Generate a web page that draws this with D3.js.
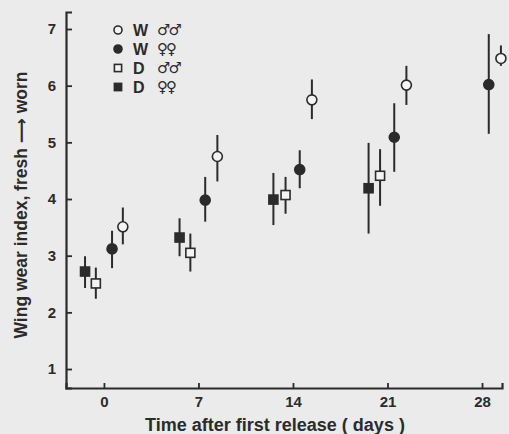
<!DOCTYPE html>
<html><head><meta charset="utf-8">
<script src="https://cdn.jsdelivr.net/npm/d3@7/dist/d3.min.js"></script>
<style>
html,body{margin:0;padding:0;background:#ebebeb;}
svg{display:block;}
text{font-family:"Liberation Sans",Arial,Helvetica,sans-serif;fill:#2b2b2b;}
</style></head>
<body><svg id="c" width="509" height="434"></svg>
<script>
// Data (days after first release, wing wear index mean, lower, upper)
const seriesLetters = ["W", "W", "D", "D"];
const seriesSexes = ["♂♂", "♀♀", "♂♂", "♀♀"];
const wMalesDay  = [1.4, 8.4, 15.4, 22.4, 29.4];
const wMalesVal  = [3.51, 4.75, 5.75, 6.01, 6.48];
const wMalesLo   = [3.20, 4.31, 5.41, 5.66, 6.35];
const wMalesHi   = [3.85, 5.13, 6.11, 6.35, 6.71];
const wFemDay    = [0.6, 7.5, 14.5, 21.5, 28.5];
const wFemVal    = [3.12, 3.98, 4.52, 5.09, 6.02];
const wFemLo     = [2.78, 3.60, 4.19, 4.48, 5.15];
const wFemHi     = [3.44, 4.39, 4.86, 5.69, 6.91];
const dMalesDay  = [-0.6, 6.4, 13.45, 20.45];
const dMalesVal  = [2.51, 3.05, 4.07, 4.41];
const dMalesLo   = [2.24, 2.72, 3.74, 3.88];
const dMalesHi   = [2.79, 3.39, 4.39, 4.88];
const dFemDay    = [-1.4, 5.6, 12.55, 19.6];
const dFemVal    = [2.72, 3.32, 3.99, 4.19];
const dFemLo     = [2.43, 2.99, 3.54, 3.39];
const dFemHi     = [2.99, 3.66, 4.46, 4.99];
const xTicks = [0, 7, 14, 21, 28];
const yTicks = [1, 2, 3, 4, 5, 6, 7];
const xTitle = "Time after first release ( days )";
const yTitleA = "Wing wear index, fresh ";
const yTitleArrow = "⟶";
const yTitleB = " worn";

const series = [
  {shape: "circle", fill: false, day: wMalesDay, val: wMalesVal, lo: wMalesLo, hi: wMalesHi},
  {shape: "circle", fill: true,  day: wFemDay,   val: wFemVal,   lo: wFemLo,   hi: wFemHi},
  {shape: "square", fill: false, day: dMalesDay, val: dMalesVal, lo: dMalesLo, hi: dMalesHi},
  {shape: "square", fill: true,  day: dFemDay,   val: dFemVal,   lo: dFemLo,   hi: dFemHi}
];

const ink = "#2b2b2b";
const svg = d3.select("#c");
const x = d3.scaleLinear().domain([-2.81, 29.48]).range([66, 502]);
const y = d3.scaleLinear().domain([0.665, 7.3]).range([388, 12]);

// axes
const gx = svg.append("g").attr("transform", "translate(0,388)")
  .call(d3.axisBottom(x).tickValues(xTicks).tickSize(-5).tickPadding(8).tickFormat(d3.format("d")));
const gy = svg.append("g").attr("transform", "translate(66,0)")
  .call(d3.axisLeft(y).tickValues(yTicks).tickSize(-6).tickPadding(10).tickFormat(d3.format("d")));
[gx, gy].forEach(g => {
  g.select(".domain").attr("stroke", ink).attr("stroke-width", 2.2);
  g.selectAll(".tick line").attr("stroke", ink).attr("stroke-width", 1.8);
  g.selectAll(".tick text").attr("fill", ink).style("font-size", "15px").style("font-weight", "bold")
   .style("font-family", "'Liberation Sans', Arial, sans-serif");
});
gx.selectAll(".tick text").attr("dy", "0.75em");

// titles
svg.append("text").attr("x", 275).attr("y", 431).attr("text-anchor", "middle")
  .style("font-size", "18px").style("font-weight", "bold").text(xTitle);
const yt = svg.append("text").attr("transform", "translate(27,205) rotate(-90)").attr("text-anchor", "middle")
  .style("font-size", "17.5px").style("font-weight", "bold");
yt.append("tspan").text(yTitleA);
yt.append("tspan").style("font-family", "'DejaVu Sans', sans-serif").style("font-weight", "bold").text(yTitleArrow);
yt.append("tspan").text(yTitleB);

// marks
function drawMarker(g, s, cx, cy, size) {
  if (s.shape === "circle") {
    g.append("circle").attr("cx", cx).attr("cy", cy).attr("r", size)
      .attr("fill", s.fill ? ink : "#f4f4f4").attr("stroke", ink).attr("stroke-width", 1.6);
  } else {
    const h = size * 0.9;
    g.append("rect").attr("x", cx - h).attr("y", cy - h).attr("width", 2 * h).attr("height", 2 * h)
      .attr("fill", s.fill ? ink : "#f4f4f4").attr("stroke", ink).attr("stroke-width", 1.6);
  }
}

series.forEach(s => {
  const g = svg.append("g");
  s.day.forEach((d, i) => {
    g.append("line").attr("x1", x(d)).attr("x2", x(d)).attr("y1", y(s.lo[i])).attr("y2", y(s.hi[i]))
      .attr("stroke", ink).attr("stroke-width", 2);
  });
  s.day.forEach((d, i) => drawMarker(g, s, x(d), y(s.val[i]), 5));
});

// legend
const lg = svg.append("g");
series.forEach((s, i) => {
  const cy = 30 + i * 19;
  drawMarker(lg, s, 118, cy, 4);
  lg.append("text").attr("x", 133).attr("y", cy + 6).style("font-size", "16px").style("font-weight", "bold").text(seriesLetters[i]);
  lg.append("text").attr("x", 157).attr("y", cy + 5)
    .style("font-family", "'DejaVu Sans', sans-serif").style("font-size", "15px").style("font-weight", "bold")
    .style("letter-spacing", "-2px").text(seriesSexes[i] + "\uFE0E");
});
</script></body></html>
